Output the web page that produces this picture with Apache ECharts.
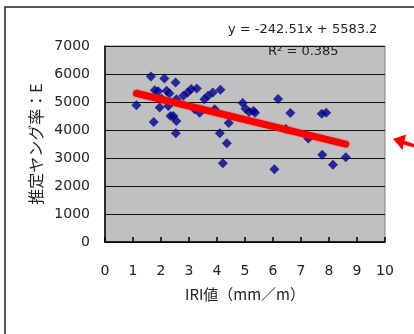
<!DOCTYPE html>
<html>
<head>
<meta charset="utf-8">
<script src="https://cdn.jsdelivr.net/npm/echarts@6/dist/echarts.min.js"></script>
<style>
html,body{margin:0;padding:0;background:#fff;}
#chart{width:414px;height:334px;}
</style>
</head>
<body>
<div id="chart"></div>
<script>
// IRI value (mm/m)
var iri = [1.12, 1.64, 1.74, 1.78, 1.90, 2.12, 1.95, 2.02, 2.20, 2.30, 2.26, 2.34, 2.44, 2.52, 2.55, 2.55, 2.53, 2.80, 2.95, 3.08, 3.28, 3.20, 3.38, 3.55, 3.68, 3.85, 4.12, 3.92, 4.10, 4.21, 4.35, 4.42, 4.92, 5.02, 5.15, 5.30, 5.36, 6.18, 6.05, 6.46, 6.62, 7.26, 7.74, 7.90, 7.76, 8.14, 8.60];
// Estimated Young's modulus E
var modulus = [4880, 5910, 4290, 5420, 5380, 5840, 4800, 5120, 5400, 5300, 4860, 4500, 4500, 5700, 5100, 4320, 3880, 5220, 5340, 5460, 5480, 4740, 4620, 5100, 5220, 5340, 5440, 4740, 3880, 2810, 3530, 4250, 4960, 4760, 4640, 4680, 4620, 5110, 2600, 4040, 4610, 3700, 4580, 4620, 3120, 2760, 3030];
// Trendline coefficients as printed on the chart
var trendSlope = -242.51;
var trendIntercept = 5583.2;
var eqLabel = 'y = -242.51x + 5583.2';
var r2Label = 'R² = 0.385';
var xTicks = [0,1,2,3,4,5,6,7,8,9,10];
var yTicks = [0,1000,2000,3000,4000,5000,6000,7000];

var points = iri.map(function(v,i){return [v, modulus[i]];});
var xmin = Math.min.apply(null, iri), xmax = Math.max.apply(null, iri);
var trend = [[xmin, trendSlope*xmin+trendIntercept],[xmax, trendSlope*xmax+trendIntercept]];

var chart = echarts.init(document.getElementById('chart'), null, {renderer:'canvas'});
var numFont = 'DejaVu Sans';
chart.setOption({
  animation:false,
  backgroundColor:'#ffffff',
  grid:{left:105, top:46, right:29, bottom:92, show:true, backgroundColor:'#c0c0c0', borderColor:'#808080', borderWidth:1},
  xAxis:{
    type:'value', min:xTicks[0], max:xTicks[xTicks.length-1], interval:1,
    axisLine:{show:true, onZero:false, lineStyle:{color:'#000', width:1.5}},
    axisTick:{show:true, inside:true, length:5, lineStyle:{color:'#000', width:1.5}},
    axisLabel:{margin:22, fontFamily:numFont, fontSize:14, color:'#222', formatter:function(v){return String(v);}},
    splitLine:{show:false},
    name:'IRI値（mm／m）', nameLocation:'middle', nameGap:45,
    nameTextStyle:{fontFamily:'Noto Sans CJK JP', fontSize:15, color:'#222'}
  },
  yAxis:{
    type:'value', min:yTicks[0], max:yTicks[yTicks.length-1], interval:1000,
    axisLine:{show:true, onZero:false, lineStyle:{color:'#000', width:1.5}},
    axisTick:{show:false},
    axisLabel:{margin:15, fontFamily:numFont, fontSize:14, color:'#222', formatter:function(v){return String(v);}},
    splitLine:{show:true, lineStyle:{color:'#111', width:1.2}},
    name:'推定ヤング率：E', nameLocation:'middle', nameGap:44, nameRotate:90,
    nameTextStyle:{fontFamily:'Noto Sans CJK JP', fontSize:16, color:'#222'}
  },
  series:[
    {type:'scatter', data:points, symbol:'diamond', symbolSize:10, itemStyle:{color:'#00008b'}, z:2},
    {type:'line', data:trend, symbol:'none', lineStyle:{color:'#ff0000', width:7, cap:'round', shadowBlur:2, shadowColor:'rgba(255,0,0,0.5)'}, z:3, silent:true}
  ],
  graphic:[
    {type:'rect', shape:{x:5, y:7, width:430, height:350}, style:{fill:'none', stroke:'#222', lineWidth:1.5}, silent:true},
    {type:'text', left:228, top:23, style:{text:eqLabel, fontFamily:numFont, fontSize:13, fill:'#222'}},
    {type:'text', left:268, top:45, style:{text:r2Label, fontFamily:numFont, fontSize:13, fill:'#222'}, z:10},
    {type:'polygon', shape:{points:[[393,139],[406,134.5],[404.5,140.5],[414,144],[414,147.5],[403.5,144.5],[402.5,150]]}, style:{fill:'#ff0000'}, silent:true}
  ]
});
</script>
</body>
</html>
